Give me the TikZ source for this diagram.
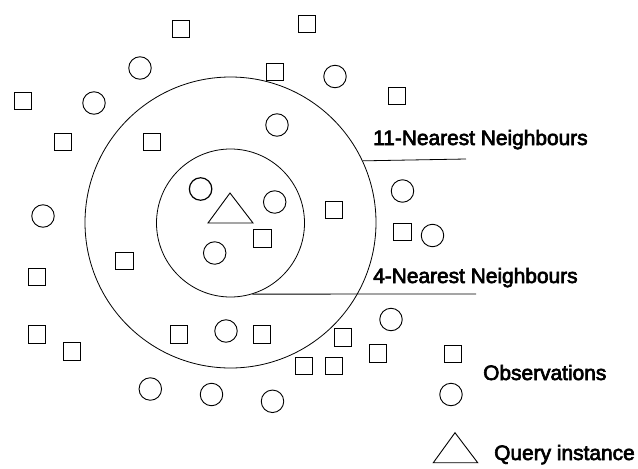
\documentclass[tikz,border=0pt]{standalone}
\usepackage{fontspec}
\setmainfont{Liberation Sans}
\newfontfamily\lblfont{Liberation Sans}[FakeBold=3]
\begin{document}
\begin{tikzpicture}[x=1pt,y=-1pt,
  obsq/.style={draw, rectangle, line width=1.2pt, minimum size=17.5pt, inner sep=0pt},
  obci/.style={draw, circle, line width=0.9pt, minimum size=22.5pt, inner sep=0pt},
  ring/.style={draw, circle, line width=0.8pt, inner sep=0pt},
  query/.style={draw, line width=0.9pt, line join=miter},
  lead/.style={draw, line width=0.8pt},
  lbl/.style={anchor=base west, inner sep=0pt, font=\lblfont\fontsize{20.9}{24}\selectfont}]
\useasboundingbox (0,0) rectangle (638,469);

% neighbourhood rings around the query point
\node[ring, minimum size=291pt] (outer) at (230.5,222.5) {};
\node[ring, minimum size=148pt] (inner) at (230.5,223) {};

% square observations
\node[obsq] (s1)  at (181,29) {};
\node[obsq] (s2)  at (307,24) {};
\node[obsq] (s3)  at (275,72) {};
\node[obsq] (s4)  at (23,101) {};
\node[obsq] (s5)  at (63,142) {};
\node[obsq] (s6)  at (152,142) {};
\node[obsq] (s7)  at (397,96) {};
\node[obsq] (s8)  at (334,210) {};
\node[obsq] (s9)  at (402.5,232) {};
\node[obsq] (s10) at (262.5,238.5) {};
\node[obsq] (s11) at (124.5,261) {};
\node[obsq] (s12) at (37,277) {};
\node[obsq] (s13) at (37,334.5) {};
\node[obsq] (s14) at (72,351.5) {};
\node[obsq] (s15) at (179,334.5) {};
\node[obsq] (s16) at (262,334.5) {};
\node[obsq] (s17) at (343,337.5) {};
\node[obsq] (s18) at (304,366) {};
\node[obsq] (s19) at (334,366) {};
\node[obsq] (s20) at (378,353.5) {};
\node[obsq] (s21) at (453,354) {};

% circle observations
\node[obci] (c1)  at (140,68) {};
\node[obci] (c2)  at (94,103) {};
\node[obci] (c3)  at (277,125) {};
\node[obci] (c4)  at (335,76.5) {};
\node[obci] (c5)  at (43,216) {};
\node[obci, line width=1.2pt] (c6) at (200.6,189) {};
\node[obci] (c7)  at (274.7,202) {};
\node[obci] (c8)  at (214.7,253) {};
\node[obci] (c9)  at (402.5,191) {};
\node[obci] (c10) at (432.5,235.5) {};
\node[obci] (c11) at (226,331) {};
\node[obci] (c12) at (391,319.5) {};
\node[obci] (c13) at (150.3,389) {};
\node[obci] (c14) at (211.5,394.5) {};
\node[obci] (c15) at (272.5,401.3) {};
\node[obci] (c16) at (451,394.5) {};

% query instance and its legend symbol
\draw[query] (230,193) -- (208,223) -- (253,223) -- cycle;
\draw[query] (455,432.7) -- (433.3,462.7) -- (477.7,462.7) -- cycle;

% ring labels with leader lines
\coordinate (e11) at (466,159);
\coordinate (e4) at (476,294);
\draw[lead] (outer.25.9) -- (e11);
\draw[lead] (inner.-73.6) -- (e4);

\node[lbl] (t11) at (373,145) {11-Nearest Neighbours};
\node[lbl] (t4)  at (373,283) {4-Nearest Neighbours};
\node[lbl] (tob) at (483,380) {Observations};
\node[lbl] (tq)  at (494,460) {Query instance};
\end{tikzpicture}
\end{document}
